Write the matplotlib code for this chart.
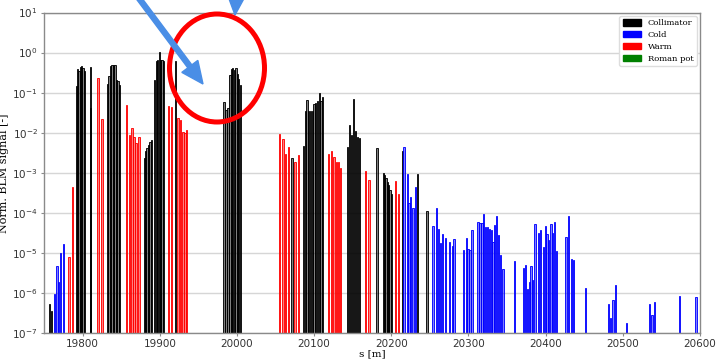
import matplotlib
matplotlib.use("Agg")
import matplotlib.pyplot as plt
from matplotlib.patches import Patch, Ellipse, FancyArrow
from matplotlib.transforms import IdentityTransform
from matplotlib.colors import to_rgba
from matplotlib.ticker import NullLocator

# Loss map: normalised BLM signal along the ring position s [m]
collimator_s = [19757.3, 19759.9,
                19791.8, 19793.5, 19795.2, 19797.0, 19798.7, 19800.4, 19802.2,
                19810.0, 19810.5,
                19832.4, 19834.3, 19836.3, 19838.2, 19840.2, 19842.1, 19844.1, 19846.0, 19848.0,
                19880.0, 19881.8, 19883.6, 19885.4, 19887.2, 19889.0,
                19893.6, 19895.5, 19897.4, 19899.3, 19901.1, 19903.0, 19904.9,
                19920.4,
                19983.3, 19985.9, 19988.5, 19991.1, 19992.8, 19994.5, 19997.1, 19998.9, 20000.6, 20002.3, 20004.9,
                20071.5,
                20086.1, 20088.4, 20090.7, 20093.0, 20095.3, 20097.6, 20099.9, 20102.2, 20104.5, 20106.8, 20109.1, 20111.3,
                20143.0, 20145.6, 20148.2, 20150.8, 20153.4, 20156.0, 20158.6,
                20181.5,
                20189.6, 20191.3, 20193.1, 20194.8, 20196.5, 20198.3, 20200.0,
                20214.9, 20234.1, 20246.2]
collimator_v = [5.4e-7, 3.5e-7,
                0.15, 0.39, 0.34, 0.44, 0.47, 0.41, 0.35,
                0.43, 0.042,
                0.165, 0.26, 0.46, 0.48, 0.50, 0.49, 0.21, 0.19, 0.155,
                0.0024, 0.0034, 0.0041, 0.0049, 0.0060, 0.0066,
                0.21, 0.60, 0.65, 1.05, 0.67, 0.64, 0.62,
                0.6,
                0.057, 0.037, 0.041, 0.27, 0.39, 0.42, 0.37, 0.41, 0.30, 0.22, 0.155,
                0.0024,
                0.0047, 0.034, 0.066, 0.035, 0.035, 0.035, 0.052, 0.056, 0.063, 0.10, 0.063, 0.076,
                0.0043, 0.016, 0.0087, 0.068, 0.011, 0.0076, 0.0072,
                0.0041,
                1.0e-3, 8.7e-4, 7.2e-4, 6.0e-4, 4.9e-4, 3.8e-4, 2.9e-4,
                0.0034, 9.3e-4, 1.1e-4]

cold_s = [19763.4, 19766.7, 19768.5, 19771.1, 19775.4,
          20216.4, 20220.7, 20222.9, 20225.0, 20228.1, 20231.5,
          20254.0, 20258.3, 20260.8, 20263.4, 20266.0, 20270.3, 20275.5, 20279.0, 20281.2,
          20293.9, 20297.1, 20299.3, 20301.9, 20304.6,
          20312.2, 20314.8, 20317.4, 20319.5, 20322.1, 20324.7, 20327.3, 20329.4, 20331.6,
          20333.7, 20336.3, 20338.9, 20341.5, 20344.6,
          20359.2,
          20371.5, 20373.5, 20376.7, 20379.0, 20381.2, 20383.4, 20386.4, 20390.7, 20393.3,
          20397.4, 20399.4, 20401.6, 20403.6, 20407.1, 20409.3, 20411.4, 20414.0,
          20426.2, 20429.5, 20433.9, 20436.5,
          20451.5,
          20481.3, 20483.9, 20487.4, 20490.4,
          20504.6,
          20534.9, 20537.9, 20541.4,
          20573.7, 20594.8]
cold_v = [9.3e-7, 4.8e-6, 1.9e-6, 1.0e-5, 1.7e-5,
          4.4e-3, 9.3e-4, 1.8e-4, 2.5e-4, 1.3e-4, 4.3e-4,
          4.8e-5, 1.35e-4, 3.9e-5, 1.8e-5, 3.0e-5, 2.3e-5, 1.9e-5, 1.5e-5, 2.2e-5,
          1.15e-5, 2.4e-5, 1.26e-5, 1.2e-5, 3.8e-5,
          6.0e-5, 5.6e-5, 5.6e-5, 9.1e-5, 4.5e-5, 4.5e-5, 4.0e-5, 3.7e-5, 1.9e-5,
          4.9e-5, 8.1e-5, 2.8e-5, 9.1e-6, 3.9e-6,
          6.2e-6,
          4.1e-6, 4.9e-6, 1.23e-6, 1.9e-6, 4.7e-6, 2.1e-6, 5.2e-5, 3.2e-5, 3.7e-5,
          1.4e-5, 4.7e-5, 3.0e-5, 2.1e-5, 5.2e-5, 3.2e-5, 5.8e-5, 1.1e-5,
          2.5e-5, 8.5e-5, 7.2e-6, 6.6e-6,
          1.35e-6,
          5.2e-7, 2.4e-7, 6.8e-7, 1.55e-6,
          1.8e-7,
          5.4e-7, 2.75e-7, 6.0e-7,
          8.5e-7, 7.8e-7]

warm_s = [19782.3, 19786.7, 19819.8, 19825.0,
          19857.0, 19860.5, 19864.0, 19866.6, 19869.2, 19872.9,
          19911.7, 19915.2, 19923.8, 19927.2, 19930.2, 19932.6, 19935.0,
          20055.4, 20059.8, 20063.2, 20067.1, 20075.3, 20079.6,
          20118.8, 20122.3, 20125.8, 20128.8, 20131.4, 20134.4,
          20166.3, 20171.1, 20205.2, 20209.1]
warm_v = [7.8e-6, 4.5e-4, 0.23, 0.022,
          0.049, 0.0087, 0.013, 0.0079, 0.0056, 0.0076,
          0.047, 0.043, 0.023, 0.021, 0.0105, 0.010, 0.0117,
          0.0091, 0.0068, 0.0029, 0.0043, 0.0019, 0.0028,
          0.0029, 0.0035, 0.0025, 0.0019, 0.0019, 0.00135,
          0.0011, 0.00066, 0.00062, 0.00029]

roman_s = []
roman_v = []

series = [("Collimator", "black", collimator_s, collimator_v),
          ("Cold", "blue", cold_s, cold_v),
          ("Warm", "red", warm_s, warm_v),
          ("Roman pot", "green", roman_s, roman_v)]

fig = plt.figure(figsize=(7.2, 3.6), dpi=100)
ax = fig.add_axes([44 / 720, 27 / 360, 656 / 720, 320.5 / 360])

for name, col, s, v in series:
    if s:
        ax.bar(s, v, width=1.7, facecolor=to_rgba(col, 0.5),
               edgecolor=to_rgba(col, 0.9), linewidth=0.7, zorder=2)

ax.set_yscale("log")
ax.set_ylim(1e-7, 10)
ax.set_yticks([10.0 ** k for k in range(-7, 2)])
ax.set_xlim(19750, 20600)
ax.set_xticks(range(19800, 20601, 100))
ax.yaxis.set_minor_locator(NullLocator())
ax.yaxis.grid(True, which="major", color="#d6d6d6", linewidth=1.0, zorder=0)
ax.set_axisbelow(True)

for sp in ax.spines.values():
    sp.set_color("#8a8a8a")
    sp.set_linewidth(1.0)
ax.tick_params(axis="both", labelsize=7.5, colors="#333333", length=2.5,
               width=0.8, pad=2)
ax.tick_params(axis="both", color="#8a8a8a")

ax.set_xlabel("s [m]", family="DejaVu Serif", fontsize=7.5, labelpad=0)
ax.set_ylabel("Norm. BLM signal [-]", family="DejaVu Serif", fontsize=8, labelpad=2)

handles = [Patch(facecolor=col, edgecolor=col, label=name) for name, col, _, _ in series]
leg = ax.legend(handles=handles, loc="upper right", prop={"family": "DejaVu Serif", "size": 6},
                frameon=True, fancybox=True, framealpha=1.0, edgecolor="#dddddd",
                handlelength=2.2, handleheight=0.8, borderaxespad=0.4, labelspacing=0.45)

# Highlight of the collimator group near s = 20000 m
ident = IdentityTransform()
fig.add_artist(Ellipse((217, 292), 95, 108, transform=ident, fill=False,
                       edgecolor="#ff0000", linewidth=3.6, zorder=10))
arrow_col = "#4a8ee6"
fig.add_artist(FancyArrow(129, 375, 74, -99, width=5, head_width=20, head_length=22,
                          length_includes_head=True, color=arrow_col, transform=ident,
                          zorder=11))
fig.add_artist(FancyArrow(239, 400, -4, -55, width=5, head_width=20, head_length=22,
                          length_includes_head=True, color=arrow_col, transform=ident,
                          zorder=11))

fig.savefig("out.png", dpi=100)
